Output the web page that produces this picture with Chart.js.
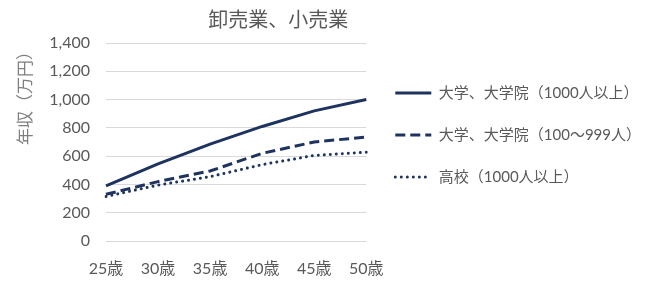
<!DOCTYPE html>
<html>
<head>
<meta charset="utf-8">
<script src="https://cdn.jsdelivr.net/npm/chart.js@4/dist/chart.umd.min.js"></script>
<style>
  html, body { margin: 0; padding: 0; background: #ffffff; }
  #wrap { width: 669px; height: 291px; position: relative; }
</style>
</head>
<body>
<div id="wrap"><canvas id="c" width="669" height="291"></canvas></div>
<script>
const categories = ["25歳", "30歳", "35歳", "40歳", "45歳", "50歳"];
const seriesNames = ["大学、大学院（1000人以上）", "大学、大学院（100〜999人）", "高校（1000人以上）"];
const univLarge = [390, 545, 685, 810, 920, 1000];
const univMid = [330, 420, 495, 620, 700, 735];
const highLarge = [315, 395, 455, 540, 605, 628];
const chartTitle = "卸売業、小売業";
const yAxisTitle = "年収（万円）";

const NAVY = "#1f3360";
const GRAY = "#595959";
const FONT = "Lato, 'Noto Sans CJK JP', sans-serif";

const titlePlugin = {
  id: "offsetTitle",
  afterLayout(chart) {
    chart.legend.top -= 7;
    chart.legend.bottom -= 7;
    chart.legend.left += 2;
    chart.legend.right += 2;
  },
  afterDraw(chart) {
    const ctx = chart.ctx;
    const a = chart.chartArea;
    ctx.save();
    ctx.font = "20px " + FONT;
    ctx.fillStyle = GRAY;
    ctx.textAlign = "center";
    ctx.textBaseline = "middle";
    ctx.fillText(chartTitle, (a.left + a.right) / 2 + 42, 21);
    ctx.restore();
  }
};

new Chart(document.getElementById("c"), {
  type: "line",
  data: {
    labels: categories,
    datasets: [
      { label: seriesNames[0], data: univLarge, borderColor: NAVY, backgroundColor: NAVY, borderWidth: 3, pointRadius: 0, tension: 0 },
      { label: seriesNames[1], data: univMid, borderColor: NAVY, backgroundColor: NAVY, borderWidth: 3, borderDash: [10, 5], pointRadius: 0, tension: 0 },
      { label: seriesNames[2], data: highLarge, borderColor: NAVY, backgroundColor: NAVY, borderWidth: 3, borderDash: [0.01, 6], borderCapStyle: "round", pointRadius: 0, tension: 0 }
    ]
  },
  options: {
    responsive: false,
    animation: false,
    devicePixelRatio: 1,
    layout: { padding: { top: 43, right: 20, bottom: 0, left: 15 } },
    plugins: {
      title: { display: false },
      tooltip: { enabled: false },
      legend: {
        display: true,
        position: "right",
        fullSize: false,
        align: "center",
        maxWidth: 330,
        labels: {
          usePointStyle: true,
          pointStyle: "line",
          pointStyleWidth: 36,
          color: GRAY,
          font: { family: FONT, size: 15 },
          padding: 27,
          generateLabels(chart) {
            const items = Chart.defaults.plugins.legend.labels.generateLabels(chart);
            items.forEach((it) => {
              const ds = chart.data.datasets[it.datasetIndex];
              it.lineDash = ds.borderDash || [];
              it.lineCap = ds.borderCapStyle || "butt";
              it.lineWidth = ds.borderWidth;
              it.strokeStyle = ds.borderColor;
              it.pointStyle = "line";
            });
            return items;
          }
        }
      }
    },
    scales: {
      x: {
        offset: false,
        afterFit: (s) => { s.height = 50; },
        grid: { display: false, drawTicks: false },
        border: { display: false },
        ticks: { color: GRAY, font: { family: FONT, size: 16 }, padding: 18, maxRotation: 0, autoSkip: false }
      },
      y: {
        min: 0,
        max: 1400,
        afterFit: (s) => { s.width = 91; },
        grid: { color: "#d9d9d9", lineWidth: 1, drawTicks: false },
        border: { display: false },
        ticks: {
          stepSize: 200,
          color: GRAY,
          font: { family: FONT, size: 16 },
          padding: 16,
          callback: (v) => v.toLocaleString("en-US")
        },
        title: {
          display: true,
          text: yAxisTitle,
          align: "end",
          color: "#7f7f7f",
          font: { family: FONT, size: 17 },
          padding: { top: 0, bottom: 0 }
        }
      }
    }
  },
  plugins: [titlePlugin]
});
</script>
</body>
</html>
